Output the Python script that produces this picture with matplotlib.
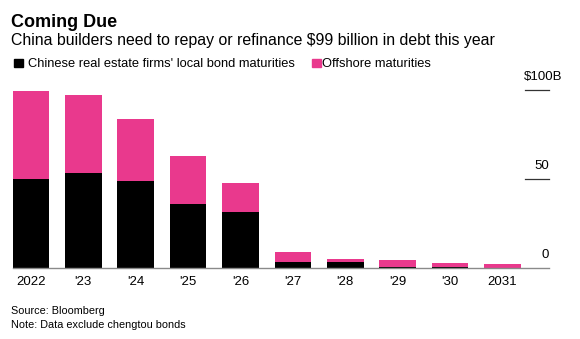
import matplotlib.pyplot as plt
from matplotlib.patches import Rectangle

plt.rcParams['font.family'] = ['Liberation Sans', 'DejaVu Sans']

# Maturities by year, $ billions
years = ["2022", "'23", "'24", "'25", "'26", "'27", "'28", "'29", "'30", "2031"]
local_bonds = [50.2, 53.5, 48.7, 36.1, 31.3, 3.3, 3.4, 0.5, 0.3, 0.1]
offshore = [49.2, 43.7, 34.8, 27.0, 16.3, 5.6, 1.4, 4.0, 2.5, 2.1]
y_ticks = [0, 50, 100]
y_tick_labels = ["0", "50", "$100B"]

BLACK = "#000000"
PINK = "#E9398D"
W, H = 580, 339


def fx(px):
    return px / W


def fy(py):
    return 1 - py / H


fig = plt.figure(figsize=(W / 100, H / 100), dpi=100)
ax = fig.add_axes([fx(12.6), fy(268), fx(549) - fx(12.6), fy(90) - fy(268)])

x = range(len(years))
ax.bar(x, local_bonds, width=0.7, color=BLACK, edgecolor="none")
ax.bar(x, offshore, width=0.7, bottom=local_bonds, color=PINK, edgecolor="none")

ax.set_xlim(-0.35, (549 - 30.9) / 52.4)
ax.set_ylim(0, 100)
for s in ax.spines.values():
    s.set_visible(False)
ax.axhline(0, color="#8a8a8a", lw=1.0, clip_on=False)
ax.set_yticks([])
ax.set_xticks(list(x))
ax.set_xticklabels(years, fontsize=9.5)
ax.tick_params(axis="x", length=0, pad=6)

# right-side value labels with short gridline stubs
xmax = ax.get_xlim()[1]
stub = 24 / 52.4
for v, lab in zip(y_ticks, y_tick_labels):
    if v > 0:
        ax.plot([xmax - stub, xmax], [v, v], color="#333333", lw=0.9, clip_on=False)
    if lab.startswith("$"):
        ax.text(xmax + 13 / 52.4, v + 3.7, lab, ha="right", va="bottom", fontsize=9.5)
    else:
        ax.text(xmax, v + 3.7, lab, ha="right", va="bottom", fontsize=9.5)

# headline, subtitle, legend, footnotes
fig.text(fx(11), fy(26.7), "Coming Due", fontsize=13, fontweight="bold", va="baseline")
fig.text(fx(11), fy(45), "China builders need to repay or refinance $99 billion in debt this year",
         fontsize=11.4, va="baseline")

fig.patches.append(Rectangle((fx(14), fy(67.3)), fx(8.5), fy(59) - fy(67.3),
                             transform=fig.transFigure, color=BLACK))
fig.text(fx(28), fy(67), "Chinese real estate firms' local bond maturities", fontsize=9.3, va="baseline")
fig.patches.append(Rectangle((fx(312), fy(67.3)), fx(8.5), fy(59) - fy(67.3),
                             transform=fig.transFigure, color=PINK))
fig.text(fx(322), fy(67), "Offshore maturities", fontsize=9.3, va="baseline")

fig.text(fx(11), fy(313.5), "Source: Bloomberg", fontsize=7.8, va="baseline")
fig.text(fx(11), fy(328), "Note: Data exclude chengtou bonds", fontsize=7.8, va="baseline")

fig.savefig("out.png", dpi=100)
